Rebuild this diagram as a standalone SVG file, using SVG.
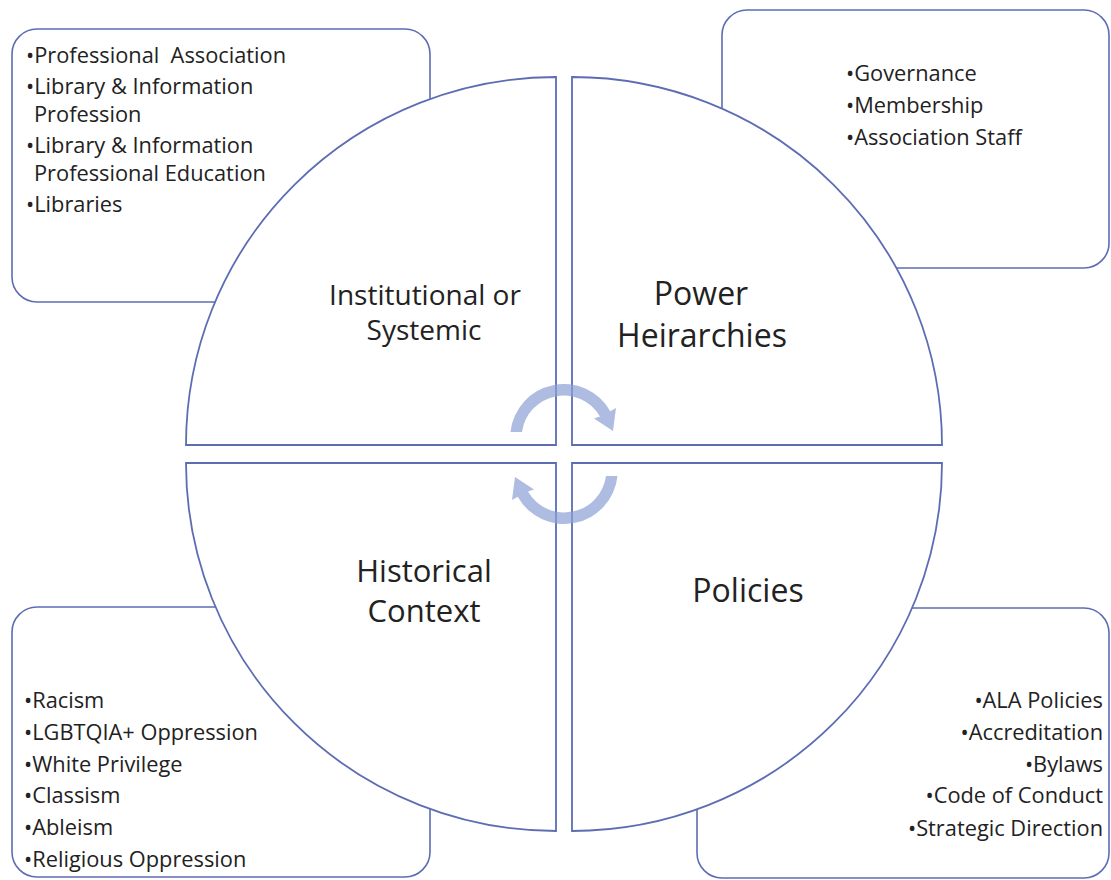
<svg xmlns="http://www.w3.org/2000/svg" width="1111" height="880" viewBox="0 0 1111 880">
<style>
.box{fill:#fff;stroke:#5d6db3;stroke-width:1.6}
.quad{fill:#fff;stroke:#5d6db3;stroke-width:1.8}
.lst{font-family:"Open Sans",sans-serif;font-size:21.8px;fill:#222}
.lbl{font-family:"Open Sans",sans-serif;fill:#222;text-anchor:middle}
.arr{fill:#8b9fd6;opacity:0.7}
</style>
<rect width="1111" height="880" fill="#fff"/>
<g id="box-institutional">
<rect class="box" x="12" y="29" width="418" height="273" rx="25"/>
<text class="lst" x="26" y="62.7" xml:space="preserve">•Professional  Association</text>
<text class="lst" x="26" y="94">•Library &amp; Information</text>
<text class="lst" x="34" y="121.7">Profession</text>
<text class="lst" x="26" y="153">•Library &amp; Information</text>
<text class="lst" x="34" y="180.7">Professional Education</text>
<text class="lst" x="26" y="212.3">•Libraries</text>
</g>
<g id="box-power">
<rect class="box" x="722" y="10" width="387" height="258" rx="25"/>
<text class="lst" x="846" y="81">•Governance</text>
<text class="lst" x="846" y="113">•Membership</text>
<text class="lst" x="846" y="145">•Association Staff</text>
</g>
<g id="box-historical">
<rect class="box" x="12" y="607" width="418" height="270" rx="25"/>
<text class="lst" x="24" y="708.3">•Racism</text>
<text class="lst" x="24" y="740">•LGBTQIA+ Oppression</text>
<text class="lst" x="24" y="771.7">•White Privilege</text>
<text class="lst" x="24" y="803.3">•Classism</text>
<text class="lst" x="24" y="835">•Ableism</text>
<text class="lst" x="24" y="867">•Religious Oppression</text>
</g>
<g id="box-policies">
<rect class="box" x="697" y="608" width="412" height="270" rx="25"/>
<g text-anchor="end">
<text class="lst" x="1103" y="708.3">•ALA Policies</text>
<text class="lst" x="1103" y="740">•Accreditation</text>
<text class="lst" x="1103" y="771.7">•Bylaws</text>
<text class="lst" x="1103" y="803.3">•Code of Conduct</text>
<text class="lst" x="1103" y="836">•Strategic Direction</text>
</g>
</g>
<g id="quad-institutional">
<path class="quad" d="M556,445 L186,445 A370,368 0 0 1 556,77 Z"/>
<text class="lbl" font-size="28" x="425" y="305">Institutional or</text>
<text class="lbl" font-size="28" x="424" y="340">Systemic</text>
</g>
<g id="quad-power">
<path class="quad" d="M572,445 L572,77 A370,368 0 0 1 942,445 Z"/>
<text class="lbl" font-size="32" x="701" y="305">Power</text>
<text class="lbl" font-size="32" x="702" y="347">Heirarchies</text>
</g>
<g id="quad-historical">
<path class="quad" d="M556,463 L556,831 A370,368 0 0 1 186,463 Z"/>
<text class="lbl" font-size="31" x="424" y="582">Historical</text>
<text class="lbl" font-size="31" x="424" y="622">Context</text>
</g>
<g id="quad-policies">
<path class="quad" d="M572,463 L942,463 A370,368 0 0 1 572,831 Z"/>
<text class="lbl" font-size="32" x="748" y="602">Policies</text>
</g>
<g id="connectors">
<path class="arr" d="M510.5,432 A53.5,53.5 0 0 1 610.3,411.2 L616,408 L613,431 L594,418.5 L600,416.6 A42,42 0 0 0 522,432 Z"/>
<path class="arr" transform="rotate(180 564 454)" d="M510.5,432 A53.5,53.5 0 0 1 610.3,411.2 L616,408 L613,431 L594,418.5 L600,416.6 A42,42 0 0 0 522,432 Z"/>
</g>
</svg>
